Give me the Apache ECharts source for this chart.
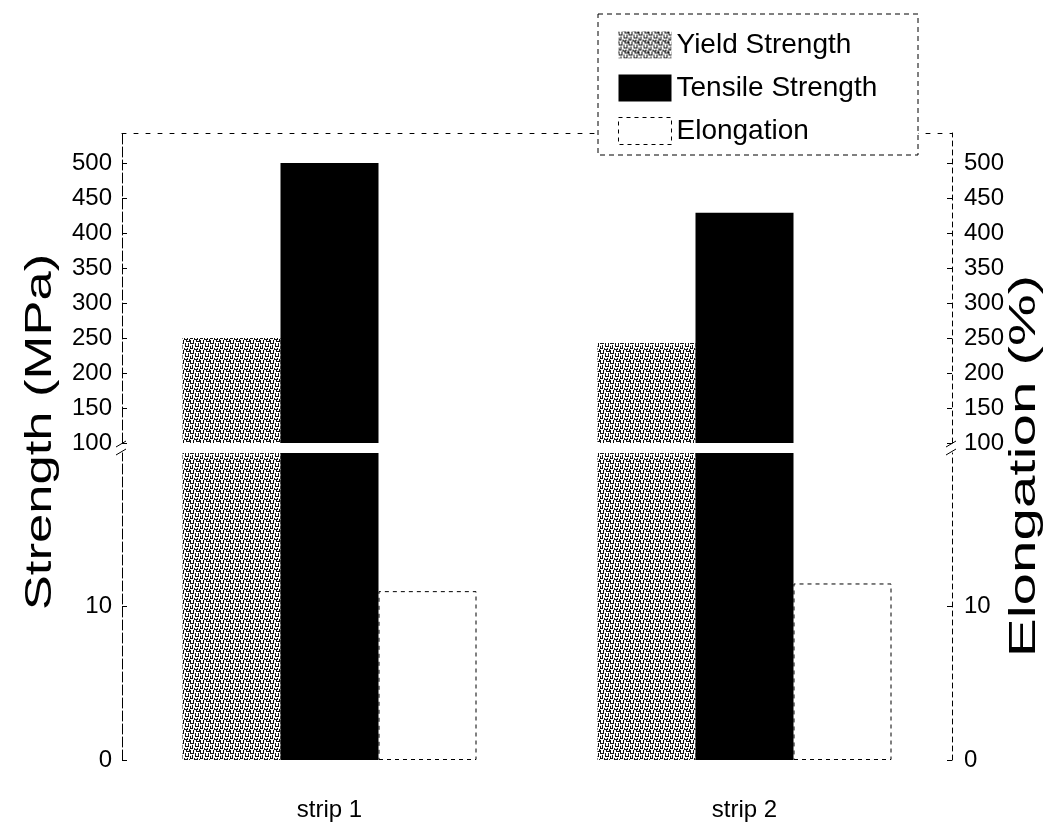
<!DOCTYPE html>
<html><head><meta charset="utf-8">
<script src="https://cdn.jsdelivr.net/npm/echarts@6/dist/echarts.min.js"></script>
<style>html,body{margin:0;padding:0;background:#fff}#c{width:1063px;height:830px}</style>
</head><body><div id="c"></div>
<script>
const categories = ['strip 1', 'strip 2'];
const seriesNames = ['Yield Strength', 'Tensile Strength', 'Elongation'];
const yieldStrength = [250, 243];
const tensileStrength = [500, 429];
const elongation = [11.0, 11.5];
const upperTicks = [100, 150, 200, 250, 300, 350, 400, 450, 500];
const lowerTicks = [0, 10];

const FONT = '"Liberation Sans", Arial, sans-serif';

function makePattern() {
  const c = document.createElement('canvas');
  c.width = 10; c.height = 10;
  const ctx = c.getContext('2d');
  ctx.fillStyle = '#fff'; ctx.fillRect(0, 0, 10, 10);
  ctx.fillStyle = '#111';
  const rows = [
    'X..X..X..X',
    'X..X..XXXX',
    'X..X......',
    'XXXX.X..X.',
    '.....X..X.',
    '..X..X..X.',
    'X.X..XXXX.',
    'X.X.......',
    'XXX.X..X..',
    '....XXXX.X'
  ];
  rows.forEach((r, y) => { for (let x = 0; x < 10; x++) if (r[x] === 'X') ctx.fillRect(x, y, 1, 1); });
  return c;
}
const pattern = { image: makePattern(), repeat: 'repeat' };

const chart = echarts.init(document.getElementById('c'), null, { renderer: 'canvas' });

function valueAxis(grid, pos, min, max, ticks) {
  return {
    type: 'value', gridIndex: grid, position: pos, min: min, max: max,
    splitLine: { show: false },
    axisLine: { show: true, lineStyle: { color: '#000', width: 1, type: pos === 'left' ? [10, 3] : [5, 4] } },
    axisTick: { show: true, inside: true, length: 5, customValues: ticks, lineStyle: { color: '#000' } },
    axisLabel: { customValues: ticks, color: '#000', fontSize: 24, fontFamily: FONT, margin: pos === 'left' ? 10 : 12 }
  };
}

const barW = 98;
const yieldStyle = { color: pattern };
const tensileStyle = { color: '#000' };
const elongStyle = { color: '#fff', borderColor: '#000', borderWidth: 1, borderType: [4, 4] };

const option = {
  backgroundColor: '#fff',
  animation: false,
  grid: [
    { left: 122, right: 111, top: 133, height: 310 },
    { left: 122, right: 111, top: 453, height: 307 }
  ],
  xAxis: [
    { type: 'category', gridIndex: 0, data: categories, position: 'top',
      axisLine: { show: true, lineStyle: { color: '#000', width: 1, type: [4, 8] } },
      axisTick: { show: false }, axisLabel: { show: false } },
    { type: 'category', gridIndex: 1, data: categories, position: 'bottom',
      axisLine: { show: false }, axisTick: { show: false },
      axisLabel: { color: '#000', fontSize: 24, fontFamily: FONT, margin: 38 } }
  ],
  yAxis: [
    valueAxis(0, 'left', 100, 543, upperTicks),
    valueAxis(0, 'right', 100, 543, upperTicks),
    valueAxis(1, 'left', 0, 20, lowerTicks),
    valueAxis(1, 'right', 0, 20, lowerTicks)
  ],
  legend: {
    orient: 'vertical', left: 613, top: 26, itemWidth: 53, itemHeight: 27, itemGap: 15,
    icon: 'rect', selectedMode: false,
    data: [
      { name: seriesNames[0] },
      { name: seriesNames[1] },
      { name: seriesNames[2], itemStyle: { color: '#fff', borderColor: '#000', borderWidth: 1, borderType: [4, 4] } }
    ],
    textStyle: { color: '#000', fontSize: 28, fontFamily: FONT }
  },
  series: [
    { name: seriesNames[0], type: 'bar', xAxisIndex: 0, yAxisIndex: 0, data: yieldStrength, barWidth: barW, barGap: '0%', itemStyle: yieldStyle, clip: true },
    { name: seriesNames[1], type: 'bar', xAxisIndex: 0, yAxisIndex: 0, data: tensileStrength, barWidth: barW, barGap: '0%', itemStyle: tensileStyle, clip: true },
    { name: seriesNames[2], type: 'bar', xAxisIndex: 0, yAxisIndex: 1, data: elongation, barWidth: barW, barGap: '0%', itemStyle: elongStyle, clip: true },
    { name: seriesNames[0], type: 'bar', xAxisIndex: 1, yAxisIndex: 2, data: yieldStrength, barWidth: barW, barGap: '0%', itemStyle: yieldStyle, clip: true },
    { name: seriesNames[1], type: 'bar', xAxisIndex: 1, yAxisIndex: 2, data: tensileStrength, barWidth: barW, barGap: '0%', itemStyle: tensileStyle, clip: true },
    { name: seriesNames[2], type: 'bar', xAxisIndex: 1, yAxisIndex: 3, data: elongation, barWidth: barW, barGap: '0%', itemStyle: elongStyle, clip: true }
  ],
  graphic: [
    { type: 'rect', z: 3, shape: { x: 598, y: 14, width: 320, height: 141 },
      style: { fill: '#fff', stroke: '#000', lineWidth: 1, lineDash: [5, 4] } },
    { type: 'text', z: 5, x: 41, y: 432, rotation: Math.PI / 2, scaleX: 1.46,
      style: { text: 'Strength (MPa)', fill: '#000', font: '36px ' + FONT, textAlign: 'center', textVerticalAlign: 'middle' } },
    { type: 'text', z: 5, x: 1025, y: 466, rotation: Math.PI / 2, scaleX: 1.62,
      style: { text: 'Elongation (%)', fill: '#000', font: '36px ' + FONT, textAlign: 'center', textVerticalAlign: 'middle' } },
    { type: 'line', z: 5, shape: { x1: 116, y1: 447, x2: 126, y2: 441 }, style: { stroke: '#000', lineWidth: 1 } },
    { type: 'line', z: 5, shape: { x1: 116, y1: 455, x2: 126, y2: 449 }, style: { stroke: '#000', lineWidth: 1 } },
    { type: 'line', z: 5, shape: { x1: 946, y1: 447, x2: 956, y2: 441 }, style: { stroke: '#000', lineWidth: 1 } },
    { type: 'line', z: 5, shape: { x1: 946, y1: 455, x2: 956, y2: 449 }, style: { stroke: '#000', lineWidth: 1 } }
  ]
};
chart.setOption(option);
</script>
</body></html>
